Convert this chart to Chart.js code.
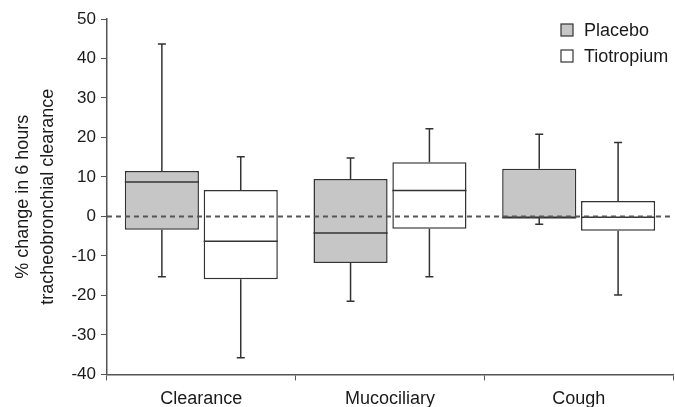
<!DOCTYPE html>
<html>
<head>
<meta charset="utf-8">
<script src="https://cdn.jsdelivr.net/npm/chart.js@4.4.0/dist/chart.umd.min.js"></script>
<style>
html, body { margin: 0; padding: 0; background: #fff; overflow: hidden; }
#wrap { width: 675px; height: 418px; position: relative; }
</style>
</head>
<body>
<div id="wrap"><canvas id="chartArea"></canvas></div>
<script>
const chartArea = document.getElementById("chartArea");

var categories = ["Clearance", "Mucociliary", "Cough"];
var seriesNames = ["Placebo", "Tiotropium"];

// box plot values (low whisker, q1, median, q3, high whisker)
var placeboMin = [-15.3, -21.5, -2.0];
var placeboQ1 = [-3.4, -11.8, -0.3];
var placeboMedian = [8.7, -4.2, -0.3];
var placeboQ3 = [11.5, 9.5, 12.1];
var placeboMax = [43.7, 14.8, 20.8];

var tioMin = [-35.8, -15.3, -19.9];
var tioQ1 = [-15.9, -3.1, -3.6];
var tioMedian = [-6.3, 6.6, -0.2];
var tioQ3 = [6.7, 13.7, 3.9];
var tioMax = [15.1, 22.2, 18.7];

var yMin = -40;
var yMax = 50;
var yStep = 10;

var fills = ["#c6c6c6", "#ffffff"];
var lineColor = "#333333";
var textColor = "#1a1a1a";
var fontFamily = "'Liberation Sans', Arial, sans-serif";

//floating bars go from q1 to q3
function boxes(q1, q3) {
    var out = [];
    for (var i = 0; i < q1.length; i++) {
        out.push([q1[i], q3[i]]);
    }
    return out;
}

var whiskers = [
    { min: placeboMin, med: placeboMedian, q1: placeboQ1, q3: placeboQ3, max: placeboMax },
    { min: tioMin, med: tioMedian, q1: tioQ1, q3: tioQ3, max: tioMax }
];

//draws whiskers, medians, the zero line and the legend
var boxPlugin = {
    id: "boxParts",
    beforeDatasetsDraw: function (chart) {
        var ctx = chart.ctx;
        var y = chart.scales.y;
        ctx.save();
        ctx.strokeStyle = lineColor;
        ctx.lineWidth = 1.5;
        for (var d = 0; d < whiskers.length; d++) {
            var meta = chart.getDatasetMeta(d);
            var w = whiskers[d];
            for (var i = 0; i < meta.data.length; i++) {
                var x = meta.data[i].x;
                var pMin = y.getPixelForValue(w.min[i]);
                var pMax = y.getPixelForValue(w.max[i]);
                var pQ1 = y.getPixelForValue(w.q1[i]);
                var pQ3 = y.getPixelForValue(w.q3[i]);
                ctx.beginPath();
                ctx.moveTo(x, pMin); ctx.lineTo(x, pQ1);
                ctx.moveTo(x, pQ3); ctx.lineTo(x, pMax);
                ctx.moveTo(x - 4, pMin); ctx.lineTo(x + 4, pMin);
                ctx.moveTo(x - 4, pMax); ctx.lineTo(x + 4, pMax);
                ctx.stroke();
            }
        }
        ctx.restore();
    },
    afterDatasetsDraw: function (chart) {
        var ctx = chart.ctx;
        var y = chart.scales.y;
        var area = chart.chartArea;
        ctx.save();
        ctx.strokeStyle = lineColor;
        ctx.lineWidth = 1.5;
        for (var d = 0; d < whiskers.length; d++) {
            var meta = chart.getDatasetMeta(d);
            for (var i = 0; i < meta.data.length; i++) {
                var bar = meta.data[i];
                var pMed = y.getPixelForValue(whiskers[d].med[i]);
                ctx.beginPath();
                ctx.moveTo(bar.x - bar.width / 2, pMed);
                ctx.lineTo(bar.x + bar.width / 2, pMed);
                ctx.stroke();
            }
        }
        // dashed zero line
        var p0 = y.getPixelForValue(0);
        ctx.strokeStyle = "#555555";
        ctx.lineWidth = 2;
        ctx.setLineDash([5, 4]);
        ctx.beginPath();
        ctx.moveTo(area.left, p0);
        ctx.lineTo(area.right, p0);
        ctx.stroke();
        ctx.setLineDash([]);

        // legend in the top right corner
        ctx.font = "18px " + fontFamily;
        ctx.textBaseline = "middle";
        ctx.textAlign = "left";
        var ly = [30, 56];
        for (var k = 0; k < seriesNames.length; k++) {
            ctx.fillStyle = fills[k];
            ctx.fillRect(561, ly[k] - 6, 12, 12);
            ctx.strokeStyle = lineColor;
            ctx.lineWidth = 1.2;
            ctx.strokeRect(561, ly[k] - 6, 12, 12);
            ctx.fillStyle = textColor;
            ctx.fillText(seriesNames[k], 584, ly[k] + 1);
        }
        ctx.restore();
    }
};

var boxChart = new Chart(chartArea, {
    type: "bar",
    data: {
        labels: categories,
        datasets: [{
            label: seriesNames[0],
            data: boxes(placeboQ1, placeboQ3),
            backgroundColor: fills[0],
            borderColor: lineColor,
            borderWidth: 1.5,
            borderSkipped: false,
            categoryPercentage: 0.836,
            barPercentage: 0.94
        }, {
            label: seriesNames[1],
            data: boxes(tioQ1, tioQ3),
            backgroundColor: fills[1],
            borderColor: lineColor,
            borderWidth: 1.5,
            borderSkipped: false,
            categoryPercentage: 0.836,
            barPercentage: 0.94
        }]
    },
    options: {
        responsive: true,
        maintainAspectRatio: false,
        animation: false,
        layout: { padding: { top: 19, right: 2, left: 4, bottom: 0 } },
        plugins: {
            legend: { display: false },
            tooltip: { enabled: false }
        },
        scales: {
            x: {
                grid: { display: true, drawOnChartArea: false, tickLength: 6, color: "#555555", offset: true },
                border: { display: true, color: "#555555", width: 1.5 },
                ticks: {
                    color: textColor,
                    padding: 8,
                    font: { family: fontFamily, size: 18 }
                }
            },
            y: {
                min: yMin,
                max: yMax,
                grid: { display: true, drawOnChartArea: false, tickLength: 6, color: "#555555" },
                border: { display: true, color: "#555555", width: 1.5 },
                ticks: {
                    stepSize: yStep,
                    color: textColor,
                    padding: 5,
                    font: { family: fontFamily, size: 17 }
                },
                title: {
                    display: true,
                    text: ["% change in 6 hours", "tracheobronchial clearance"],
                    color: textColor,
                    padding: { top: 6, bottom: 6 },
                    font: { family: fontFamily, size: 18, lineHeight: 1.4 }
                }
            }
        }
    },
    plugins: [boxPlugin]
});
</script>
</body>
</html>
